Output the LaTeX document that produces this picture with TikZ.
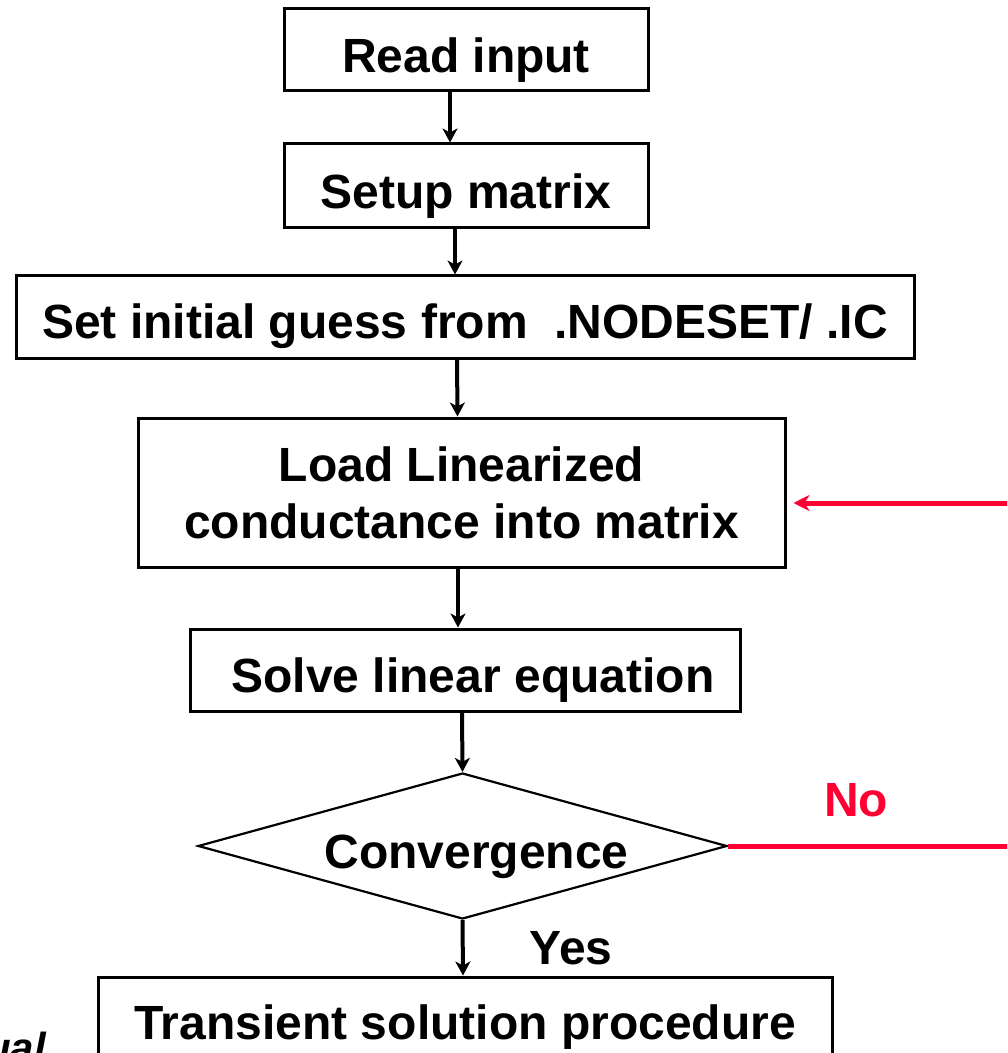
\documentclass[tikz,border=0pt]{standalone}
\usepackage{fontspec}
\setmainfont{Liberation Sans}
\usetikzlibrary{shapes.geometric,arrows.meta}
\definecolor{loopred}{RGB}{255,0,51}
\newcommand{\chartfont}{\fontsize{24}{28.5}\selectfont\bfseries}
\newcommand{\lowtext}[1]{\raisebox{-5.5pt}[\height][\depth]{#1}}
\tikzset{
  box/.style={draw=black,line width=1.5pt,inner sep=0pt,align=center,font=\chartfont,
    execute at begin node={\rule{0pt}{27pt}}},
  decision/.style={diamond,aspect=3.6,draw=black,line width=1.1pt,inner sep=0pt,font=\chartfont},
  flow/.style={draw=black,line width=2pt,-{Stealth[length=7pt,width=7.5pt,inset=2pt]}},
  loopback/.style={draw=loopred,line width=2.5pt},
  tag/.style={font=\chartfont}
}

\begin{document}
\begin{tikzpicture}[x=0.5pt,y=-0.5pt]
  \useasboundingbox (0,0) rectangle (1007,1053);
  \clip (0,0) rectangle (1007,1053);

  \node[box,minimum width=182pt,minimum height=41pt] (read) at (466,50) {Read input};
  \node[box,minimum width=182pt,minimum height=42pt] (setup) at (466,186) {Setup matrix};
  \node[box,minimum width=449pt,minimum height=41pt] (guess) at (465,317) {Set initial guess from \ .NODESET/ .IC};
  \node[box,minimum width=323.5pt,minimum height=74.5pt] (load) at (461.5,492.5) {Load Linearized\\conductance into matrix};
  \node[box,minimum width=275pt,minimum height=41pt] (solve) at (465,670) {\hspace*{8pt}Solve linear equation};
  \node[decision,minimum width=264.5pt,minimum height=73pt] (conv) at (462.5,846) {\hspace*{14pt}\lowtext{Convergence}};
  \node[box,minimum width=367pt,minimum height=40pt] (trans) at (465,1017) {Transient solution procedure};

  \draw[flow] ([xshift=-8pt]read.south) -- ([xshift=-8pt]setup.north);
  \draw[flow] ([xshift=-5.5pt]setup.south) -- ([xshift=-5pt]guess.north);
  \draw[flow] ([xshift=-4pt]guess.south) -- ([xshift=-2pt]load.north);
  \draw[flow] ([xshift=-1.75pt]load.south) -- ([xshift=-3.5pt]solve.north);
  \draw[flow] ([xshift=-1.5pt]solve.south) -- (conv.north);
  \draw[flow] (conv.south) -- ([xshift=-1pt]trans.north);

  % No branch runs off to the right and back into the load step
  \coordinate (edgeR) at (1020,503);
  \draw[loopback] (conv.east) -- (conv.east -| edgeR);
  \draw[loopback,-{Stealth[length=8pt,width=8pt,inset=2.5pt]},shorten >=3.5pt] (edgeR) -- (load.east |- edgeR);

  \node[tag,text=loopred] (no) at (856,800) {No};
  \node[tag] (yes) at (571,948) {Yes};
  \node[anchor=base east,font=\fontsize{21}{25}\selectfont\bfseries\itshape] (note) at (53,1062) {ual};
\end{tikzpicture}
\end{document}
